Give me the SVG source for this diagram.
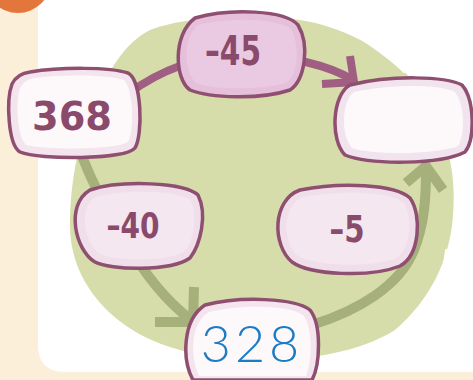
<svg xmlns="http://www.w3.org/2000/svg" width="473" height="380" viewBox="0 0 473 380">
<style>
.node{stroke:#8e4f70;stroke-width:3.5;stroke-linejoin:round}
.inner{fill:#fdf9fb;stroke:none}
.num{font-family:"DejaVu Sans","Liberation Sans",sans-serif;font-weight:bold;fill:#8a4a6c;text-anchor:middle}
.op{font-family:"DejaVu Sans","Liberation Sans",sans-serif;font-weight:bold;fill:#8a4a6c;text-anchor:middle}
.ans{font-family:Lato,"Open Sans",sans-serif;font-weight:300;fill:#1b7cc6;text-anchor:middle}
.gline{fill:none;stroke:#a5b07b;stroke-width:10}
.mline{fill:none;stroke:#a05e83;stroke-width:8}
.sketch{fill:none;stroke:#ffffff;stroke-width:2;stroke-linecap:round}
</style>
<rect width="473" height="380" fill="#fcefd9"/>
<path d="M38,0 H473 V372 H65 Q38,372 38,345 Z" fill="#ffffff"/>
<circle cx="18" cy="-20" r="33" fill="#e3773b"/>
<path d="M150,30 C190,15 260,14 300,20 C350,28 395,55 420,90 C445,125 457,170 453,215 C450,260 430,300 395,330 C360,352 310,360 260,360 C210,360 160,350 125,325 C90,300 70,265 70,225 C70,180 80,130 100,90 C115,60 130,40 150,30 Z" fill="#d6dcaa"/>
<path class="sketch" d="M360,38 C378,50 392,60 404,72"/>
<path class="sketch" d="M72,262 C85,300 110,325 140,340"/>
<path class="sketch" d="M446,250 C444,270 440,285 432,300"/>
<g id="connectors">
<path class="mline" d="M128,94 C160,70 200,55 240,55 C290,55 330,66 353,80"/>
<polyline class="mline" points="322,84 354,82 350,56" stroke-linejoin="miter"/>
<path class="gline" d="M80,150 C90,180 105,205 125,240 C145,275 165,300 190,319"/>
<polyline class="gline" points="155,322 193,322 194,287" stroke-linejoin="miter"/>
<path class="gline" d="M312,325 C360,310 400,285 414,250 C424,225 426,200 426,172"/>
<polyline class="gline" points="406,183 426,166 443,190" stroke-linejoin="miter"/>
</g>
<g id="n368">
<path class="node" fill="#f3e4ee" d="M30,72 C60,67 110,67 128,73 C142,80 143,135 135,148 C125,160 40,160 20,152 C8,145 6,100 12,84 C16,76 22,73 30,72 Z"/>
<path class="inner" d="M34,78 C65,74 110,75 124,80 C134,90 134,132 128,142 C115,150 45,150 26,145 C16,135 16,100 20,88 C24,82 28,79 34,78 Z"/>
<text class="num" x="72" y="130" font-size="39" textLength="80" lengthAdjust="spacingAndGlyphs">368</text>
</g>
<g id="nminus45">
<path class="node" fill="#e6bfdb" d="M195,18 C230,8 285,10 298,25 C310,45 305,80 290,90 C260,100 210,98 190,90 C175,80 172,35 195,18 Z"/>
<path d="M198,25 C230,17 280,18 292,30 C300,48 298,75 286,83 C260,90 212,90 196,83 C184,72 182,38 198,25 Z" fill="#eacae2"/>
<text class="op" x="233" y="65" font-size="40" textLength="56" lengthAdjust="spacingAndGlyphs">–45</text>
</g>
<g id="nempty">
<path class="node" fill="#f1e4ee" d="M350,85 C390,75 445,76 462,85 C475,100 475,140 465,152 C440,165 370,165 345,155 C330,140 332,95 350,85 Z"/>
<path class="inner" d="M354,92 C390,84 440,84 455,92 C465,105 465,135 458,146 C435,155 372,155 352,148 C340,135 342,100 354,92 Z"/>
</g>
<g id="nminus40">
<path class="node" fill="#f0dfeb" d="M90,190 C120,180 185,182 198,195 C208,215 200,245 190,258 C170,272 110,270 95,262 C75,250 65,205 90,190 Z"/>
<path d="M95,197 C125,189 180,190 191,201 C198,218 193,243 184,252 C166,262 114,261 100,254 C84,243 78,208 95,197 Z" fill="#f4e7f0"/>
<text class="op" x="133" y="238" font-size="36" textLength="53" lengthAdjust="spacingAndGlyphs">–40</text>
</g>
<g id="nminus5">
<path class="node" fill="#f0dfeb" d="M300,190 C340,182 395,184 410,198 C422,215 420,255 400,266 C370,278 310,275 292,262 C272,245 272,200 300,190 Z"/>
<path d="M303,197 C340,190 392,191 404,203 C413,218 411,250 395,259 C368,268 313,266 297,255 C282,242 282,205 303,197 Z" fill="#f4e7f0"/>
<text class="op" x="347" y="242" font-size="37" textLength="35" lengthAdjust="spacingAndGlyphs">–5</text>
</g>
<g id="n328">
<path class="node" fill="#f3e4ee" d="M205,305 C240,296 295,298 310,310 C322,325 320,365 312,380 L193,380 C182,360 182,320 205,305 Z"/>
<path class="inner" d="M209,312 C242,304 292,305 304,316 C313,330 312,362 306,376 L199,376 C190,358 190,322 209,312 Z"/>
<text class="ans" x="252" y="362" font-size="52" letter-spacing="4">328</text>
</g>
</svg>
